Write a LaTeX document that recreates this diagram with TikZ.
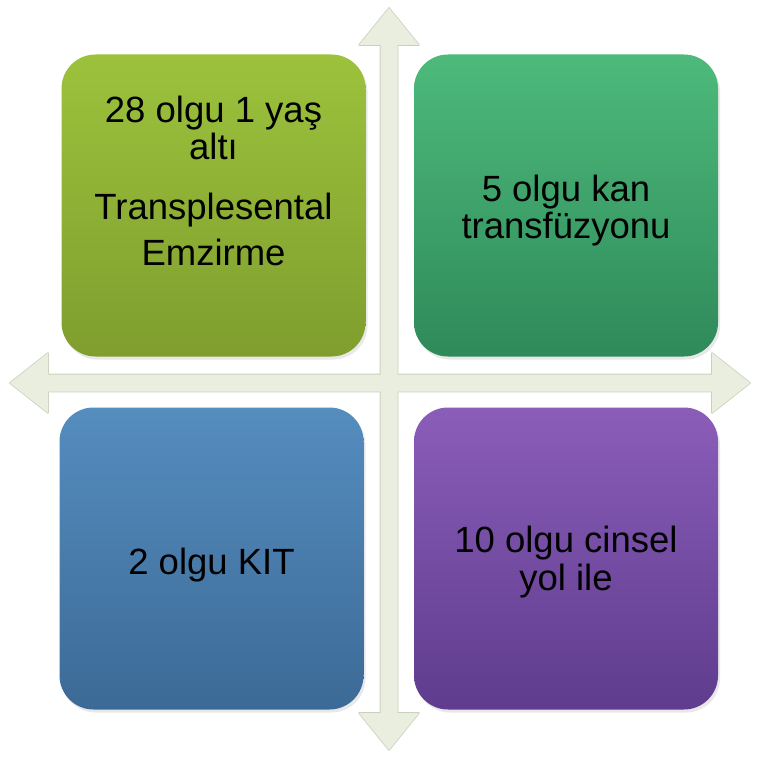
\documentclass[tikz,border=0pt]{standalone}
\usepackage{fontspec}
\setmainfont{Liberation Sans}
\usepackage{tikz}
\usetikzlibrary{shadows}
\definecolor{QuadLime}{HTML}{9CC23C}
\definecolor{QuadLimeDark}{HTML}{7F9E2E}
\definecolor{QuadGreen}{HTML}{4DBA7B}
\definecolor{QuadGreenDark}{HTML}{2F8A5A}
\definecolor{QuadBlue}{HTML}{558DBF}
\definecolor{QuadBlueDark}{HTML}{3C6A96}
\definecolor{QuadPurple}{HTML}{8A5DB9}
\definecolor{QuadPurpleDark}{HTML}{5F3C8D}
\definecolor{AxisFill}{HTML}{E9EEDF}
\definecolor{AxisLine}{HTML}{C9D1BC}
\tikzset{
  quadbox/.style={rounded corners=34pt,minimum width=304pt,minimum height=302pt,
    inner sep=0pt,draw=none,
    drop shadow={opacity=0.18,shadow xshift=2pt,shadow yshift=-3pt}},
  quadtext/.style={align=center,inner sep=0pt,text=black,
    font=\fontsize{36.5}{37}\selectfont},
  axisline/.style={draw=AxisLine,line width=1.6pt,line join=round},
  axisfill/.style={fill=AxisFill}
}
\begin{document}
\begin{tikzpicture}[x=1pt,y=-1pt]
  \useasboundingbox (0,0) rectangle (757,757);

  % axes: outlines first, then fills, so the crossing stays open
  \foreach \sty in {axisline,axisfill}{
    \path[\sty] (10,383) -- (48,353) -- (48,374.5) -- (712,374.5) -- (712,353)
      -- (750,383) -- (712,413) -- (712,391.5) -- (48,391.5) -- (48,413) -- cycle;
    \path[\sty] (389,8) -- (419,45) -- (397.5,45) -- (397.5,713) -- (419,713)
      -- (389,750) -- (359,713) -- (380.5,713) -- (380.5,45) -- (359,45) -- cycle;
  }

  % quadrants
  \node[quadbox,top color=QuadLime,bottom color=QuadLimeDark] (infant) at (213.5,205.5) {};
  \node[quadbox,top color=QuadGreen,bottom color=QuadGreenDark] (blood) at (566,205.5) {};
  \node[quadbox,top color=QuadBlue,bottom color=QuadBlueDark] (kit) at (211.5,558.5) {};
  \node[quadbox,top color=QuadPurple,bottom color=QuadPurpleDark] (sexual) at (566,558.5) {};

  \node[quadtext] (infanttext) at ([yshift=25pt]infant.center) {28 olgu 1 yaş\\altı\\[23pt]Transplesental\\[9pt]Emzirme};
  \node[quadtext] (bloodtext) at ([yshift=-5pt]blood.center) {5 olgu kan\\transfüzyonu};
  \node[quadtext] (kittext) at ([yshift=-7pt]kit.center) {2 olgu KIT};
  \node[quadtext,font=\fontsize{36.5}{38}\selectfont] (sexualtext) at ([yshift=-4pt]sexual.center) {10 olgu cinsel\\yol ile};
\end{tikzpicture}
\end{document}
